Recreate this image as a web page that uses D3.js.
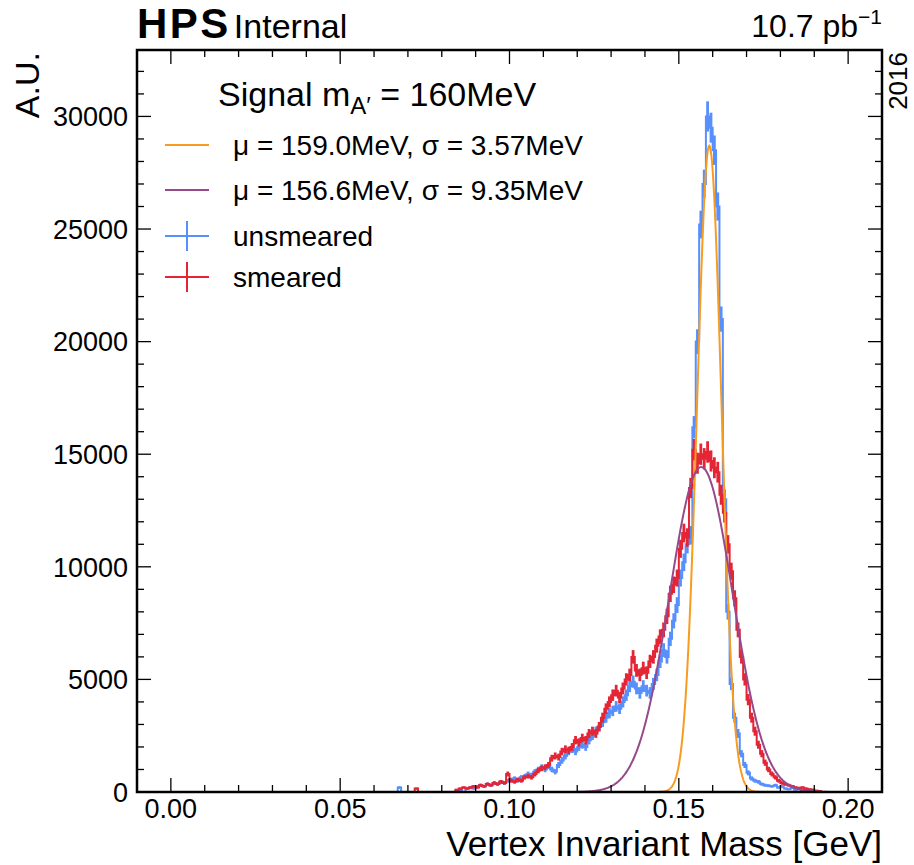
<!DOCTYPE html>
<html>
<head>
<meta charset="utf-8">
<script src="https://cdn.jsdelivr.net/npm/d3@7"></script>
<style>
  body { margin: 0; background: #fff; }
  svg { font-family: "Liberation Sans", Arial, sans-serif; }
</style>
</head>
<body>
<svg id="chart" width="914" height="865"></svg>
<script>
// histogram binning (GeV): 200 bins of 1 MeV from 0 to 0.2
var binStart = 0.0;
var binWidth = 0.001;

// bin contents (A.U.), bin 0 .. 199
var unsmeared = [
  0,0,0,0,0,0,0,0,0,0, 0,0,0,0,0,0,0,0,0,0,
  0,0,0,0,0,0,0,0,0,0, 0,0,0,0,0,0,0,0,0,0,
  0,0,0,0,0,0,0,0,0,0, 0,0,0,0,0,0,0,0,0,0,
  0,0,0,0,0,0,0,200,0,0, 0,0,0,0,0,0,0,0,0,0,
  0,0,0,0,0,100,0,150,200,150,
  250,300,250,350,300,400,350,450,400,500,
  550,600,500,650,700,800,750,900,1000,1100,
  1000,1150,1000,900,1200,1400,1600,1800,1900,1800,
  2000,2100,2000,2300,2500,2700,2900,3100,3300,3500,
  3600,3800,3700,4000,4300,4700,4900,4600,4400,4700,
  4500,4400,4800,5200,5800,6300,6000,6800,7600,8300,
  9500,10200,11000,11400,16200,20000,25200,27000,30000,29500,
  28500,26000,21000,13000,8000,4800,3300,2600,1700,1200,
  850,600,500,450,350,300,280,250,300,200,
  250,150,120,180,100,150,80,120,60,100,
  50,0,0,0,0,0,0,0,0,0
];
var smeared = [
  0,0,0,0,0,0,0,0,0,0, 0,0,0,0,0,0,0,0,0,0,
  0,0,0,0,0,0,0,0,0,0, 0,0,0,0,0,0,0,0,0,0,
  0,0,0,0,0,0,0,0,0,0, 0,0,0,0,0,0,0,0,0,0,
  0,0,0,0,0,0,0,0,0,0, 0,0,150,0,0,0,0,0,0,0,
  0,0,0,0,100,150,200,150,200,250,
  200,300,250,350,300,400,350,450,400,800,
  500,450,550,500,650,700,650,800,950,1050,
  1100,1200,1500,1600,1550,1800,1900,1850,2000,2300,
  2200,2400,2300,2600,2700,2600,2900,3300,3700,4000,
  4300,4500,4200,4600,5000,5200,6000,5400,5200,5500,
  5300,5800,6000,6500,6900,7200,7800,8800,9200,9500,
  10800,11500,11300,13500,15200,14600,15000,14800,15100,14700,
  14400,14200,13200,12400,11000,9800,8600,7200,6000,5000,
  4100,3300,2700,2100,1700,1300,1000,800,650,500,
  400,350,300,250,200,180,200,150,120,100,
  60,40,0,0,0,0,0,0,0,0
];
// poisson-like error scale (weight per entry)
var errWeight = 15;

// gaussian fits: [unsmeared, smeared]
var fitMu = [0.1590, 0.1566];
var fitSigma = [0.00357, 0.00935];
var fitPeak = [28700, 14430];
var fitRange = [0.12, 0.195];

var xTicks = [0.00, 0.05, 0.10, 0.15, 0.20];
var yTicks = [0, 5000, 10000, 15000, 20000, 25000, 30000];

var colors = { unsmeared: "#5790fc", smeared: "#e42536", fit0: "#f89c20", fit1: "#964a8b" };

var W = 914, H = 865;
var margin = { left: 137, right: 32, top: 50, bottom: 73 };
var x0 = margin.left, x1 = W - margin.right, y0 = H - margin.bottom, y1 = margin.top;

var x = d3.scaleLinear().domain([-0.01, 0.21]).range([x0, x1]);
var y = d3.scaleLinear().domain([0, 32950]).range([y0, y1]);

var svg = d3.select("#chart");
svg.append("defs").append("clipPath").attr("id", "plotclip")
   .append("rect").attr("x", x0).attr("y", y1).attr("width", x1 - x0).attr("height", y0 - y1);

var plot = svg.append("g").attr("clip-path", "url(#plotclip)");

function drawHist(vals, color) {
    var pts = vals.map(function(v, i) { return [binStart + i * binWidth, v]; });
    pts.push([binStart + vals.length * binWidth, vals[vals.length - 1]]);
    var line = d3.line().x(function(d) { return x(d[0]); }).y(function(d) { return y(d[1]); })
                 .curve(d3.curveStepAfter);
    plot.append("path").attr("d", line(pts)).attr("fill", "none")
        .attr("stroke", color).attr("stroke-width", 2);
    plot.selectAll(null).data(vals.map(function(v, i) { return { v: v, i: i }; })
                          .filter(function(d) { return d.v > 0; }))
        .enter().append("line")
        .attr("x1", function(d) { return x(binStart + (d.i + 0.5) * binWidth); })
        .attr("x2", function(d) { return x(binStart + (d.i + 0.5) * binWidth); })
        .attr("y1", function(d) { return y(d.v - Math.sqrt(d.v * errWeight)); })
        .attr("y2", function(d) { return y(d.v + Math.sqrt(d.v * errWeight)); })
        .attr("stroke", color).attr("stroke-width", 2.8);
}
drawHist(unsmeared, colors.unsmeared);
drawHist(smeared, colors.smeared);

function drawFit(k, color) {
    var xs = d3.range(fitRange[0], fitRange[1], 0.0002);
    var line = d3.line()
        .x(function(d) { return x(d); })
        .y(function(d) { return y(fitPeak[k] * Math.exp(-0.5 * Math.pow((d - fitMu[k]) / fitSigma[k], 2))); });
    plot.append("path").attr("d", line(xs)).attr("fill", "none")
        .attr("stroke", color).attr("stroke-width", 2);
}
drawFit(0, colors.fit0);
drawFit(1, colors.fit1);

// frame and ticks
var axes = svg.append("g");
axes.append("rect").attr("x", x0).attr("y", y1).attr("width", x1 - x0).attr("height", y0 - y1)
    .attr("fill", "none").attr("stroke", "#000").attr("stroke-width", 2.5);

var majorLen = 14, minorLen = 7;
var xMinor = d3.range(-10, 211, 10).map(function(d) { return d / 1000; });
var yMinor = d3.range(0, 33000, 1000);

xMinor.forEach(function(v) {
    var major = Math.abs(v * 20 - Math.round(v * 20)) < 1e-6;
    var len = major ? majorLen : minorLen;
    axes.append("line").attr("x1", x(v)).attr("x2", x(v)).attr("y1", y0).attr("y2", y0 - len)
        .attr("stroke", "#000").attr("stroke-width", 1.3);
    axes.append("line").attr("x1", x(v)).attr("x2", x(v)).attr("y1", y1).attr("y2", y1 + len)
        .attr("stroke", "#000").attr("stroke-width", 1.3);
});
yMinor.forEach(function(v) {
    var len = (v % 5000 === 0) ? majorLen : minorLen;
    axes.append("line").attr("x1", x0).attr("x2", x0 + len).attr("y1", y(v)).attr("y2", y(v))
        .attr("stroke", "#000").attr("stroke-width", 1.3);
    axes.append("line").attr("x1", x1).attr("x2", x1 - len).attr("y1", y(v)).attr("y2", y(v))
        .attr("stroke", "#000").attr("stroke-width", 1.3);
});

axes.selectAll(".xtl").data(xTicks).enter().append("text")
    .attr("x", function(d) { return x(d); }).attr("y", 818)
    .attr("text-anchor", "middle").attr("font-size", 27)
    .text(function(d) { return d3.format(".2f")(d); });
axes.selectAll(".ytl").data(yTicks).enter().append("text")
    .attr("x", 128).attr("y", function(d) { return y(d); }).attr("dy", "0.36em")
    .attr("text-anchor", "end").attr("font-size", 27)
    .text(function(d) { return d; });

// axis titles
svg.append("text").attr("x", x1).attr("y", 856).attr("text-anchor", "end")
   .attr("font-size", 35).text("Vertex Invariant Mass [GeV]");
svg.append("text").attr("transform", "translate(39,52) rotate(-90)").attr("text-anchor", "end")
   .attr("font-size", 34).text("A.U.");

// header
var hdr = svg.append("text").attr("x", 137).attr("y", 38);
hdr.append("tspan").attr("font-weight", "bold").attr("font-size", 42).attr("letter-spacing", 2.5).text("HPS");
hdr.append("tspan").attr("dx", 3).attr("font-size", 34).text("Internal");

var lumi = svg.append("text").attr("x", x1).attr("y", 37).attr("text-anchor", "end").attr("font-size", 32);
lumi.append("tspan").text("10.7 pb");
lumi.append("tspan").attr("font-size", 21).attr("dy", -13).text("\u22121");

svg.append("text").attr("transform", "translate(907,52) rotate(-90)").attr("text-anchor", "end")
   .attr("font-size", 26).text("2016");

// legend
var leg = svg.append("g");
var title = leg.append("text").attr("x", 218).attr("y", 106).attr("font-size", 34);
title.append("tspan").text("Signal m");
title.append("tspan").attr("font-size", 24).attr("dy", 8).text("A\u2032");
title.append("tspan").attr("dy", -8).text(" = 160MeV");

var entries = [
    { type: "line", color: colors.fit0, y: 145,
      label: "\u03bc = " + (fitMu[0] * 1000).toFixed(1) + "MeV, \u03c3 = " + (fitSigma[0] * 1000).toFixed(2) + "MeV" },
    { type: "line", color: colors.fit1, y: 190,
      label: "\u03bc = " + (fitMu[1] * 1000).toFixed(1) + "MeV, \u03c3 = " + (fitSigma[1] * 1000).toFixed(2) + "MeV" },
    { type: "err", color: colors.unsmeared, y: 236, label: "unsmeared" },
    { type: "err", color: colors.smeared, y: 277, label: "smeared" }
];
entries.forEach(function(e) {
    leg.append("line").attr("x1", 165).attr("x2", 209).attr("y1", e.y).attr("y2", e.y)
       .attr("stroke", e.color).attr("stroke-width", 2);
    if (e.type === "err") {
        leg.append("line").attr("x1", 187).attr("x2", 187).attr("y1", e.y - 15).attr("y2", e.y + 15)
           .attr("stroke", e.color).attr("stroke-width", 2);
    }
    leg.append("text").attr("x", 233).attr("y", e.y + 10).attr("font-size", 28).text(e.label);
});
</script>
</body>
</html>
